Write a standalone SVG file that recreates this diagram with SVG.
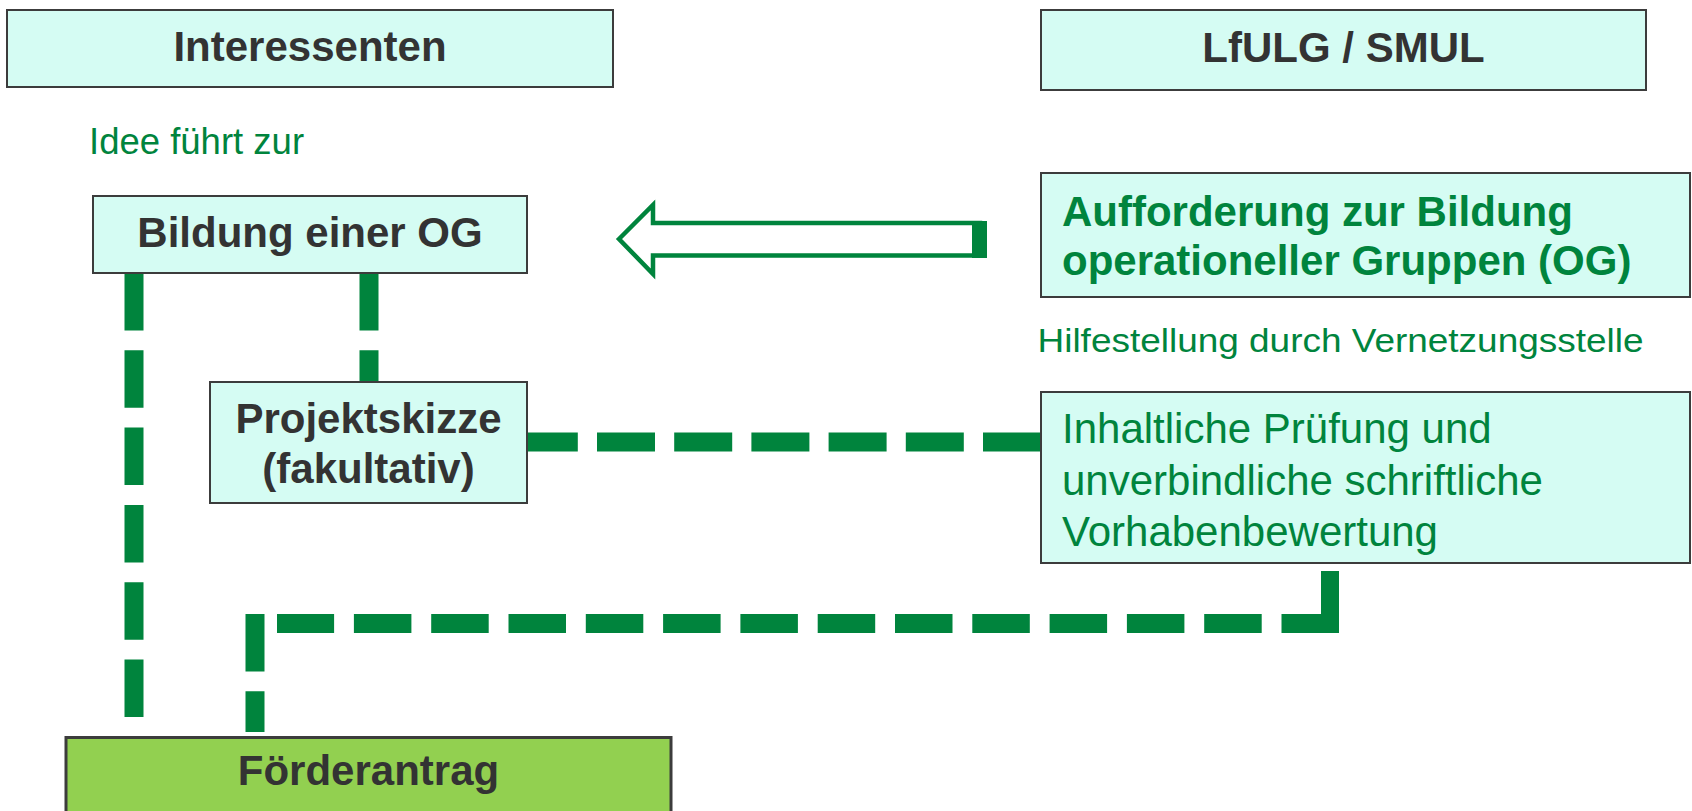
<svg xmlns="http://www.w3.org/2000/svg" width="1692" height="811" viewBox="0 0 1692 811">
<defs>
<style>
.box{fill:#d5fcf3;stroke:#3c3c3c;stroke-width:2}
.fbox{fill:#92d050;stroke:#3c3c3c;stroke-width:3}
.t{font-family:"Liberation Sans",Arial,sans-serif;font-size:42px}
.b{font-weight:bold;fill:#333333}
.bg{font-weight:bold;fill:#00843d}
.g{fill:#00843d}
.c{text-anchor:middle}
.dash{fill:none;stroke:#00843d;stroke-width:19;stroke-dasharray:57.5 19.8}
</style>
</defs>
<rect width="1692" height="811" fill="#ffffff"/>
<g id="connectors">
<path class="dash" d="M134,273 V717"/>
<path class="dash" d="M369,273 V381"/>
<path class="dash" d="M1041,442 H527" style="stroke-dasharray:58 19.2"/>
<path class="dash" d="M1339,623.5 H277"/>
<rect x="1321" y="571" width="18" height="62" fill="#00843d"/>
<path class="dash" d="M255,614 V732"/>
<g id="block-arrow">
<polygon points="619,239 653,205 653,223 980,223 980,255.5 653,255.5 653,274" fill="#ffffff" stroke="#00843d" stroke-width="4.5" stroke-linejoin="miter"/>
<rect x="972" y="221" width="15" height="37" fill="#00843d"/>
</g>
</g>
<g id="interessenten">
<rect class="box" x="7" y="10" width="606" height="77"/>
<text class="t b c" x="310" y="61">Interessenten</text>
</g>
<g id="lfulg">
<rect class="box" x="1041" y="10" width="605" height="80"/>
<text class="t b c" x="1343.5" y="62">LfULG / SMUL</text>
</g>
<g id="idee">
<text class="t g" x="89" y="154" style="font-size:36.5px">Idee führt zur</text>
</g>
<g id="bildung">
<rect class="box" x="93" y="196" width="434" height="77"/>
<text class="t b c" x="310" y="247">Bildung einer OG</text>
</g>
<g id="aufforderung">
<rect class="box" x="1041" y="173" width="649" height="124"/>
<text class="t bg" x="1062" y="226">Aufforderung zur Bildung</text>
<text class="t bg" x="1062" y="275">operationeller Gruppen (OG)</text>
</g>
<g id="hilfestellung">
<text class="t g" x="1037.5" y="352" style="font-size:34px" textLength="606" lengthAdjust="spacingAndGlyphs">Hilfestellung durch Vernetzungsstelle</text>
</g>
<g id="projektskizze">
<rect class="box" x="210" y="382" width="317" height="121"/>
<text class="t b c" x="368.5" y="433">Projektskizze</text>
<text class="t b c" x="368.5" y="483">(fakultativ)</text>
</g>
<g id="inhaltliche">
<rect class="box" x="1041" y="392" width="649" height="171"/>
<text class="t g" x="1062" y="443">Inhaltliche Prüfung und</text>
<text class="t g" x="1062" y="494.5">unverbindliche schriftliche</text>
<text class="t g" x="1062" y="546">Vorhabenbewertung</text>
</g>
<g id="foerderantrag">
<rect class="fbox" x="66" y="737.5" width="605" height="90"/>
<text class="t b c" x="368.5" y="785">Förderantrag</text>
</g>
</svg>
